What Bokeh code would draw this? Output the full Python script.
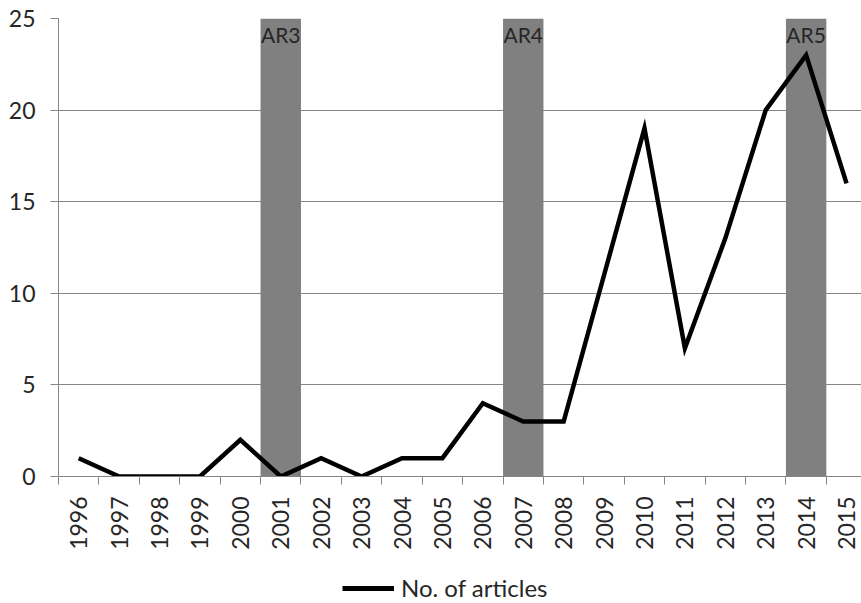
from bokeh.plotting import figure
from bokeh.layouts import column
from bokeh.models import FixedTicker, Legend, LegendItem, ColumnDataSource
from bokeh.core.properties import value
from bokeh.embed import file_html
from bokeh.resources import INLINE
import math

years = [str(y) for y in range(1996, 2016)]
articles = [1, 0, 0, 0, 2, 0, 1, 0, 1, 1, 4, 3, 3, 11, 19, 7, 13, 20, 23, 16]
ar_years = ["2001", "2007", "2014"]
ar_labels = ["AR3", "AR4", "AR5"]
y_ticks = [0, 5, 10, 15, 20, 25]
series_name = "No. of articles"

FONT = "Lato"
TXT = "#262626"
GRID = "#868686"

xs = list(range(len(years)))
ar_x = [years.index(y) for y in ar_years]
y_max = y_ticks[-1]

p = figure(width=861, height=560, output_backend="svg", toolbar_location=None,
           x_range=(-0.5, 19.37), y_range=(0, y_max),
           min_border_left=58, min_border_top=18, min_border_bottom=84, min_border_right=0)
p.outline_line_color = None
p.background_fill_color = "white"
p.border_fill_color = "white"

# AR shaded columns
p.vbar(x=ar_x, width=1, top=[y_max]*len(ar_x), bottom=0, fill_color="#808080", line_color=None)
src = ColumnDataSource(dict(x=ar_x, y=[y_max]*len(ar_x), t=ar_labels))
p.text(x="x", y="y", text="t", source=src, text_align="center", text_baseline="top",
       y_offset=3, text_font=value(FONT), text_font_size="21px", text_color=TXT)

p.line(xs, articles, line_color="black", line_width=4.5, line_join="miter")

# axes
p.xaxis.ticker = FixedTicker(ticks=xs, minor_ticks=[x - 0.5 for x in xs])
p.xaxis.major_label_overrides = {i: y for i, y in enumerate(years)}
p.xaxis.major_tick_line_color = None
p.xaxis.major_tick_out = 0
p.xaxis.major_tick_in = 0
p.xaxis.minor_tick_line_color = GRID
p.xaxis.minor_tick_out = 8
p.xaxis.minor_tick_in = 0
p.xaxis.axis_line_color = GRID
p.xaxis.major_label_orientation = math.pi / 2
p.xaxis.major_label_standoff = 12
p.xaxis.major_label_text_font = FONT
p.xaxis.major_label_text_font_size = "23px"
p.xaxis.major_label_text_color = TXT

p.yaxis.ticker = FixedTicker(ticks=y_ticks)
p.yaxis.major_tick_line_color = GRID
p.yaxis.major_tick_out = 8
p.yaxis.major_tick_in = 0
p.yaxis.minor_tick_line_color = None
p.yaxis.axis_line_color = GRID
p.yaxis.major_label_standoff = 15
p.yaxis.major_label_text_font = FONT
p.yaxis.major_label_text_font_size = "23px"
p.yaxis.major_label_text_color = TXT

p.xgrid.grid_line_color = None
p.ygrid.grid_line_color = GRID
p.ygrid.grid_line_width = 1

# legend strip below the chart (its line sits outside the strip's visible ranges)
lg = figure(width=861, height=43, output_backend="svg", toolbar_location=None,
            x_range=(-100, -99), y_range=(-100, -99), min_border=0)
lg.axis.visible = False
lg.grid.visible = False
lg.outline_line_color = None
lr = lg.line(xs, articles, line_color="black", line_width=5)
legend = Legend(items=[LegendItem(label=series_name, renderers=[lr])],
                orientation="horizontal", location=(284, 1),
                label_text_font=FONT, label_text_font_size="24px", label_text_color=TXT,
                glyph_width=52, label_standoff=7, border_line_color=None,
                background_fill_alpha=0, margin=0, padding=3)
lg.add_layout(legend)

layout = column(p, lg, spacing=0)
open("out.html", "w").write(file_html(layout, INLINE))
